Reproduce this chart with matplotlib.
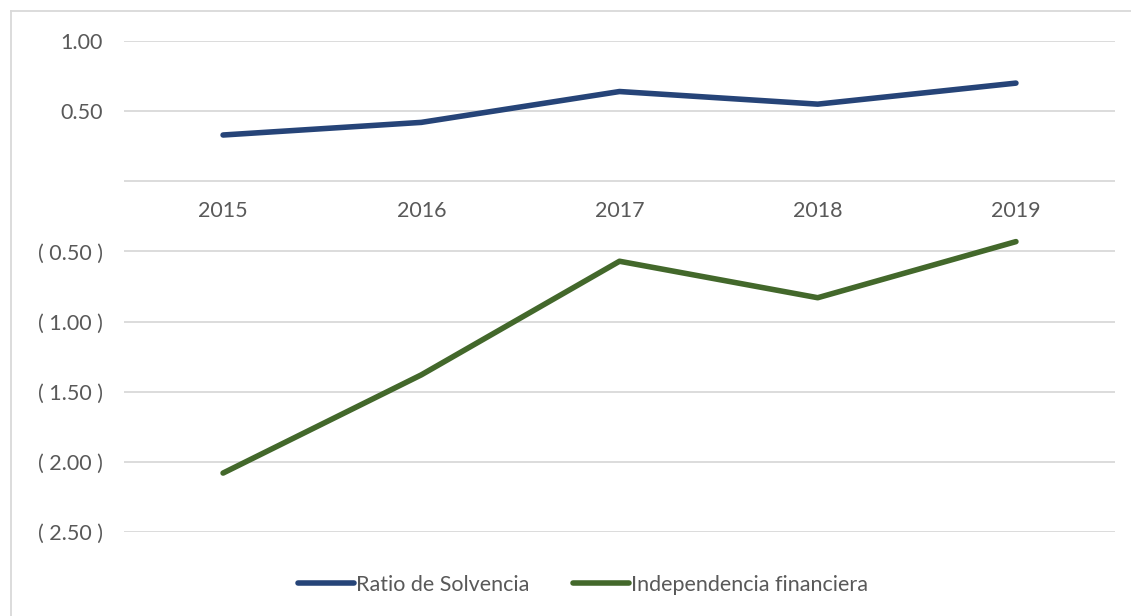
import matplotlib.pyplot as plt
from matplotlib.lines import Line2D
from matplotlib.ticker import FuncFormatter

years = ['2015', '2016', '2017', '2018', '2019']
solvencia = [0.33, 0.42, 0.64, 0.55, 0.70]
independencia = [-2.08, -1.38, -0.57, -0.83, -0.43]
yticks = [1.0, 0.5, 0.0, -0.5, -1.0, -1.5, -2.0, -2.5]

plt.rcParams['font.family'] = ['Lato', 'DejaVu Sans']

def fmt(v, pos):
    if abs(v) < 1e-9:
        return ''
    if v < 0:
        return '( %.2f )' % abs(v)
    return '%.2f' % v

fig = plt.figure(figsize=(11.31, 6.16), dpi=100)
ax = fig.add_axes([0.1096, 0.1364, 0.8763, 0.797])

x = range(len(years))
ax.plot(x, solvencia, color='#264478', lw=4, solid_capstyle='round', label='Ratio de Solvencia')
ax.plot(x, independencia, color='#43682B', lw=4, solid_capstyle='round', label='Independencia financiera')

ax.set_xlim(-0.5, 4.5)
ax.set_ylim(-2.5, 1.0)
ax.set_yticks(yticks)
ax.yaxis.set_major_formatter(FuncFormatter(fmt))
ax.set_xticks(list(x))
ax.set_xticklabels(years)
ax.grid(axis='y', color='#D9D9D9', lw=1.3)
ax.set_axisbelow(True)

for s in ['top', 'right', 'left']:
    ax.spines[s].set_visible(False)
ax.spines['bottom'].set_position(('data', 0))
ax.spines['bottom'].set_visible(False)

ax.tick_params(axis='y', length=0, pad=15, labelsize=15.5, labelcolor='#595959')
ax.tick_params(axis='x', length=0, pad=14, labelsize=15.5, labelcolor='#595959')

ax.legend(loc='center', bbox_to_anchor=(0.463, -0.108), ncol=2, frameon=False,
          fontsize=15.5, labelcolor='#595959', handlelength=2.6, handletextpad=0.1,
          columnspacing=2.0)

# outer chart border (top and left edges visible)
fig.add_artist(Line2D([0.0097, 1.0], [0.982, 0.982], color='#D9D9D9', lw=1.3))
fig.add_artist(Line2D([0.0097, 0.0097], [0.0, 0.982], color='#D9D9D9', lw=1.3))

fig.savefig('out.png', dpi=100)
